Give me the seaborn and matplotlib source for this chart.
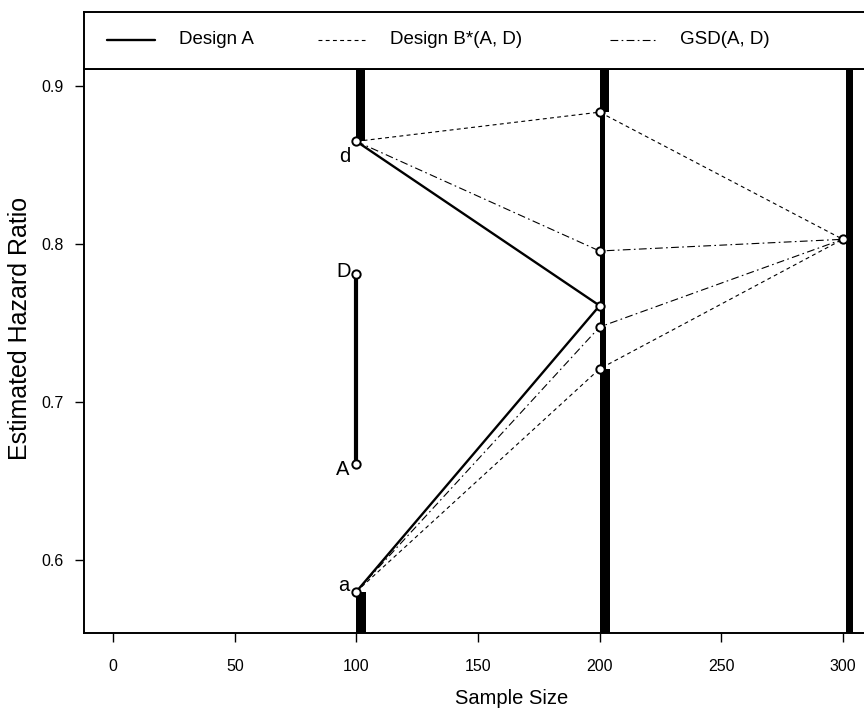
import numpy as np
import pandas as pd
import matplotlib
matplotlib.use("Agg")
import matplotlib.pyplot as plt
import seaborn as sns

# ----------------------
# data
# ----------------------
design_labels = ["Design A", "Design B*(A, D)", "GSD(A, D)"]

# paths: (design, path id, sample size, hazard ratio)
path_design = ["A", "A", "A", "A",
               "B", "B", "B", "B", "B", "B",
               "G", "G", "G", "G", "G", "G"]
path_id = [1, 1, 2, 2,
           3, 3, 3, 4, 4, 4,
           5, 5, 5, 6, 6, 6]
path_n = [100, 200, 100, 200,
          100, 200, 300, 100, 200, 300,
          100, 200, 300, 100, 200, 300]
path_hr = [0.865, 0.761, 0.580, 0.761,
           0.865, 0.8835, 0.803, 0.580, 0.721, 0.803,
           0.865, 0.7956, 0.803, 0.580, 0.7475, 0.803]

# observed points (open circles)
pt_n = [100, 100, 100, 100, 200, 200, 200, 200, 200, 300]
pt_hr = [0.865, 0.580, 0.781, 0.661, 0.8835, 0.7956, 0.761, 0.7475, 0.721, 0.803]

# interval D - A at n = 100
da_n = [100, 100]
da_hr = [0.661, 0.781]

# point labels
lab_text = ["d", "D", "A", "a"]
lab_n = [100, 100, 100, 100]
lab_hr = [0.865, 0.781, 0.661, 0.580]
lab_off = [(-8.6, -10.8), (-9.4, 2.0), (-10.0, -4.3), (-9.4, 4.3)]

# thick stopping-region bars: left x, lower hr, upper hr, width
bar_n = [100, 100, 200, 200, 200, 200, 301.5]
bar_lo = [0.865, 0.50, 0.8835, 0.7475, 0.721, 0.50, 0.50]
bar_hi = [1.00, 0.580, 1.00, 0.8835, 0.7475, 0.721, 1.00]
bar_w = [3.7, 4.0, 4.0, 2.3, 2.7, 4.1, 2.5]

x_ticks = [0, 50, 100, 150, 200, 250, 300]
y_ticks = [0.6, 0.7, 0.8, 0.9]

# ----------------------
# style
# ----------------------
sns.set_style("white")
plt.rcParams["font.family"] = ["Liberation Sans", "DejaVu Sans"]
plt.rcParams["text.color"] = "black"
plt.rcParams["axes.labelcolor"] = "black"
plt.rcParams["xtick.color"] = "black"
plt.rcParams["ytick.color"] = "black"

fig = plt.figure(figsize=(8.64, 7.21), dpi=100)
ax = fig.add_axes([84 / 864, 88 / 721, 788 / 864, 564 / 721])

# stopping-region bars
heights = np.array(bar_hi) - np.array(bar_lo)
ax.bar(bar_n, heights, width=bar_w, bottom=bar_lo, align="edge",
       color="black", edgecolor="none", zorder=2)

# design paths
df = pd.DataFrame({"design": path_design, "path": path_id,
                   "n": path_n, "hr": path_hr})
styles = {"A": dict(lw=1.7, ls="-"),
          "B": dict(lw=0.8, ls=(0, (3.5, 3))),
          "G": dict(lw=0.8, ls=(0, (7, 3, 1.5, 3)))}
for key, st in styles.items():
    sub = df[df.design == key]
    for pid, grp in sub.groupby("path"):
        sns.lineplot(data=grp, x="n", y="hr", estimator=None, sort=False,
                     color="black", linewidth=st["lw"], linestyle=st["ls"],
                     ax=ax, zorder=3)

# D - A interval
sns.lineplot(x=da_n, y=da_hr, estimator=None, sort=False, color="black",
             linewidth=3, ax=ax, zorder=3)

# circles
sns.scatterplot(x=pt_n, y=pt_hr, marker="o", s=36, facecolor="white",
                edgecolor="black", linewidth=1.4, ax=ax, zorder=4)

for t, xn, yh, off in zip(lab_text, lab_n, lab_hr, lab_off):
    ax.annotate(t, (xn, yh), xytext=off, textcoords="offset points",
                ha="center", va="center", fontsize=14.5)

ax.set_xlim(-12, 312)
ax.set_ylim(0.5538, 0.9108)
ax.set_xticks(x_ticks)
ax.set_yticks(y_ticks)
ax.set_xticklabels([str(v) for v in x_ticks])
ax.set_yticklabels([f"{v:.1f}" for v in y_ticks])
ax.tick_params(direction="out", length=6.5, width=1, color="black",
               labelsize=11.5, left=True, bottom=True)
ax.tick_params(axis="x", pad=12)
ax.tick_params(axis="y", pad=8)
for s in ax.spines.values():
    s.set_linewidth(1.4)
    s.set_color("black")
ax.set_xlabel("Sample Size", fontsize=14.5)
ax.set_ylabel("Estimated Hazard Ratio", fontsize=18)
ax.xaxis.set_label_coords((512 - 84) / 788, -0.1)
ax.yaxis.set_label_coords(-0.066, (633 - 328) / 564)

# ----------------------
# legend box above the plot
# ----------------------
lax = fig.add_axes([84 / 864, 652 / 721, 788 / 864, 57 / 721])
lax.set_xlim(84, 872)
lax.set_ylim(69, 12)
lax.set_xticks([])
lax.set_yticks([])
for s in lax.spines.values():
    s.set_linewidth(1.4)
    s.set_color("black")
leg_line_x = [(107, 155), (318, 365), (610, 655)]
leg_text_x = [179, 390, 680]
for key, lab, (x0, x1), tx in zip(styles, design_labels, leg_line_x, leg_text_x):
    st = styles[key]
    lax.plot([x0, x1], [40, 40], color="black", linewidth=st["lw"], linestyle=st["ls"])
    lax.text(tx, 40, lab, ha="left", va="center", fontsize=13.5)

fig.savefig("out.png", dpi=100)
